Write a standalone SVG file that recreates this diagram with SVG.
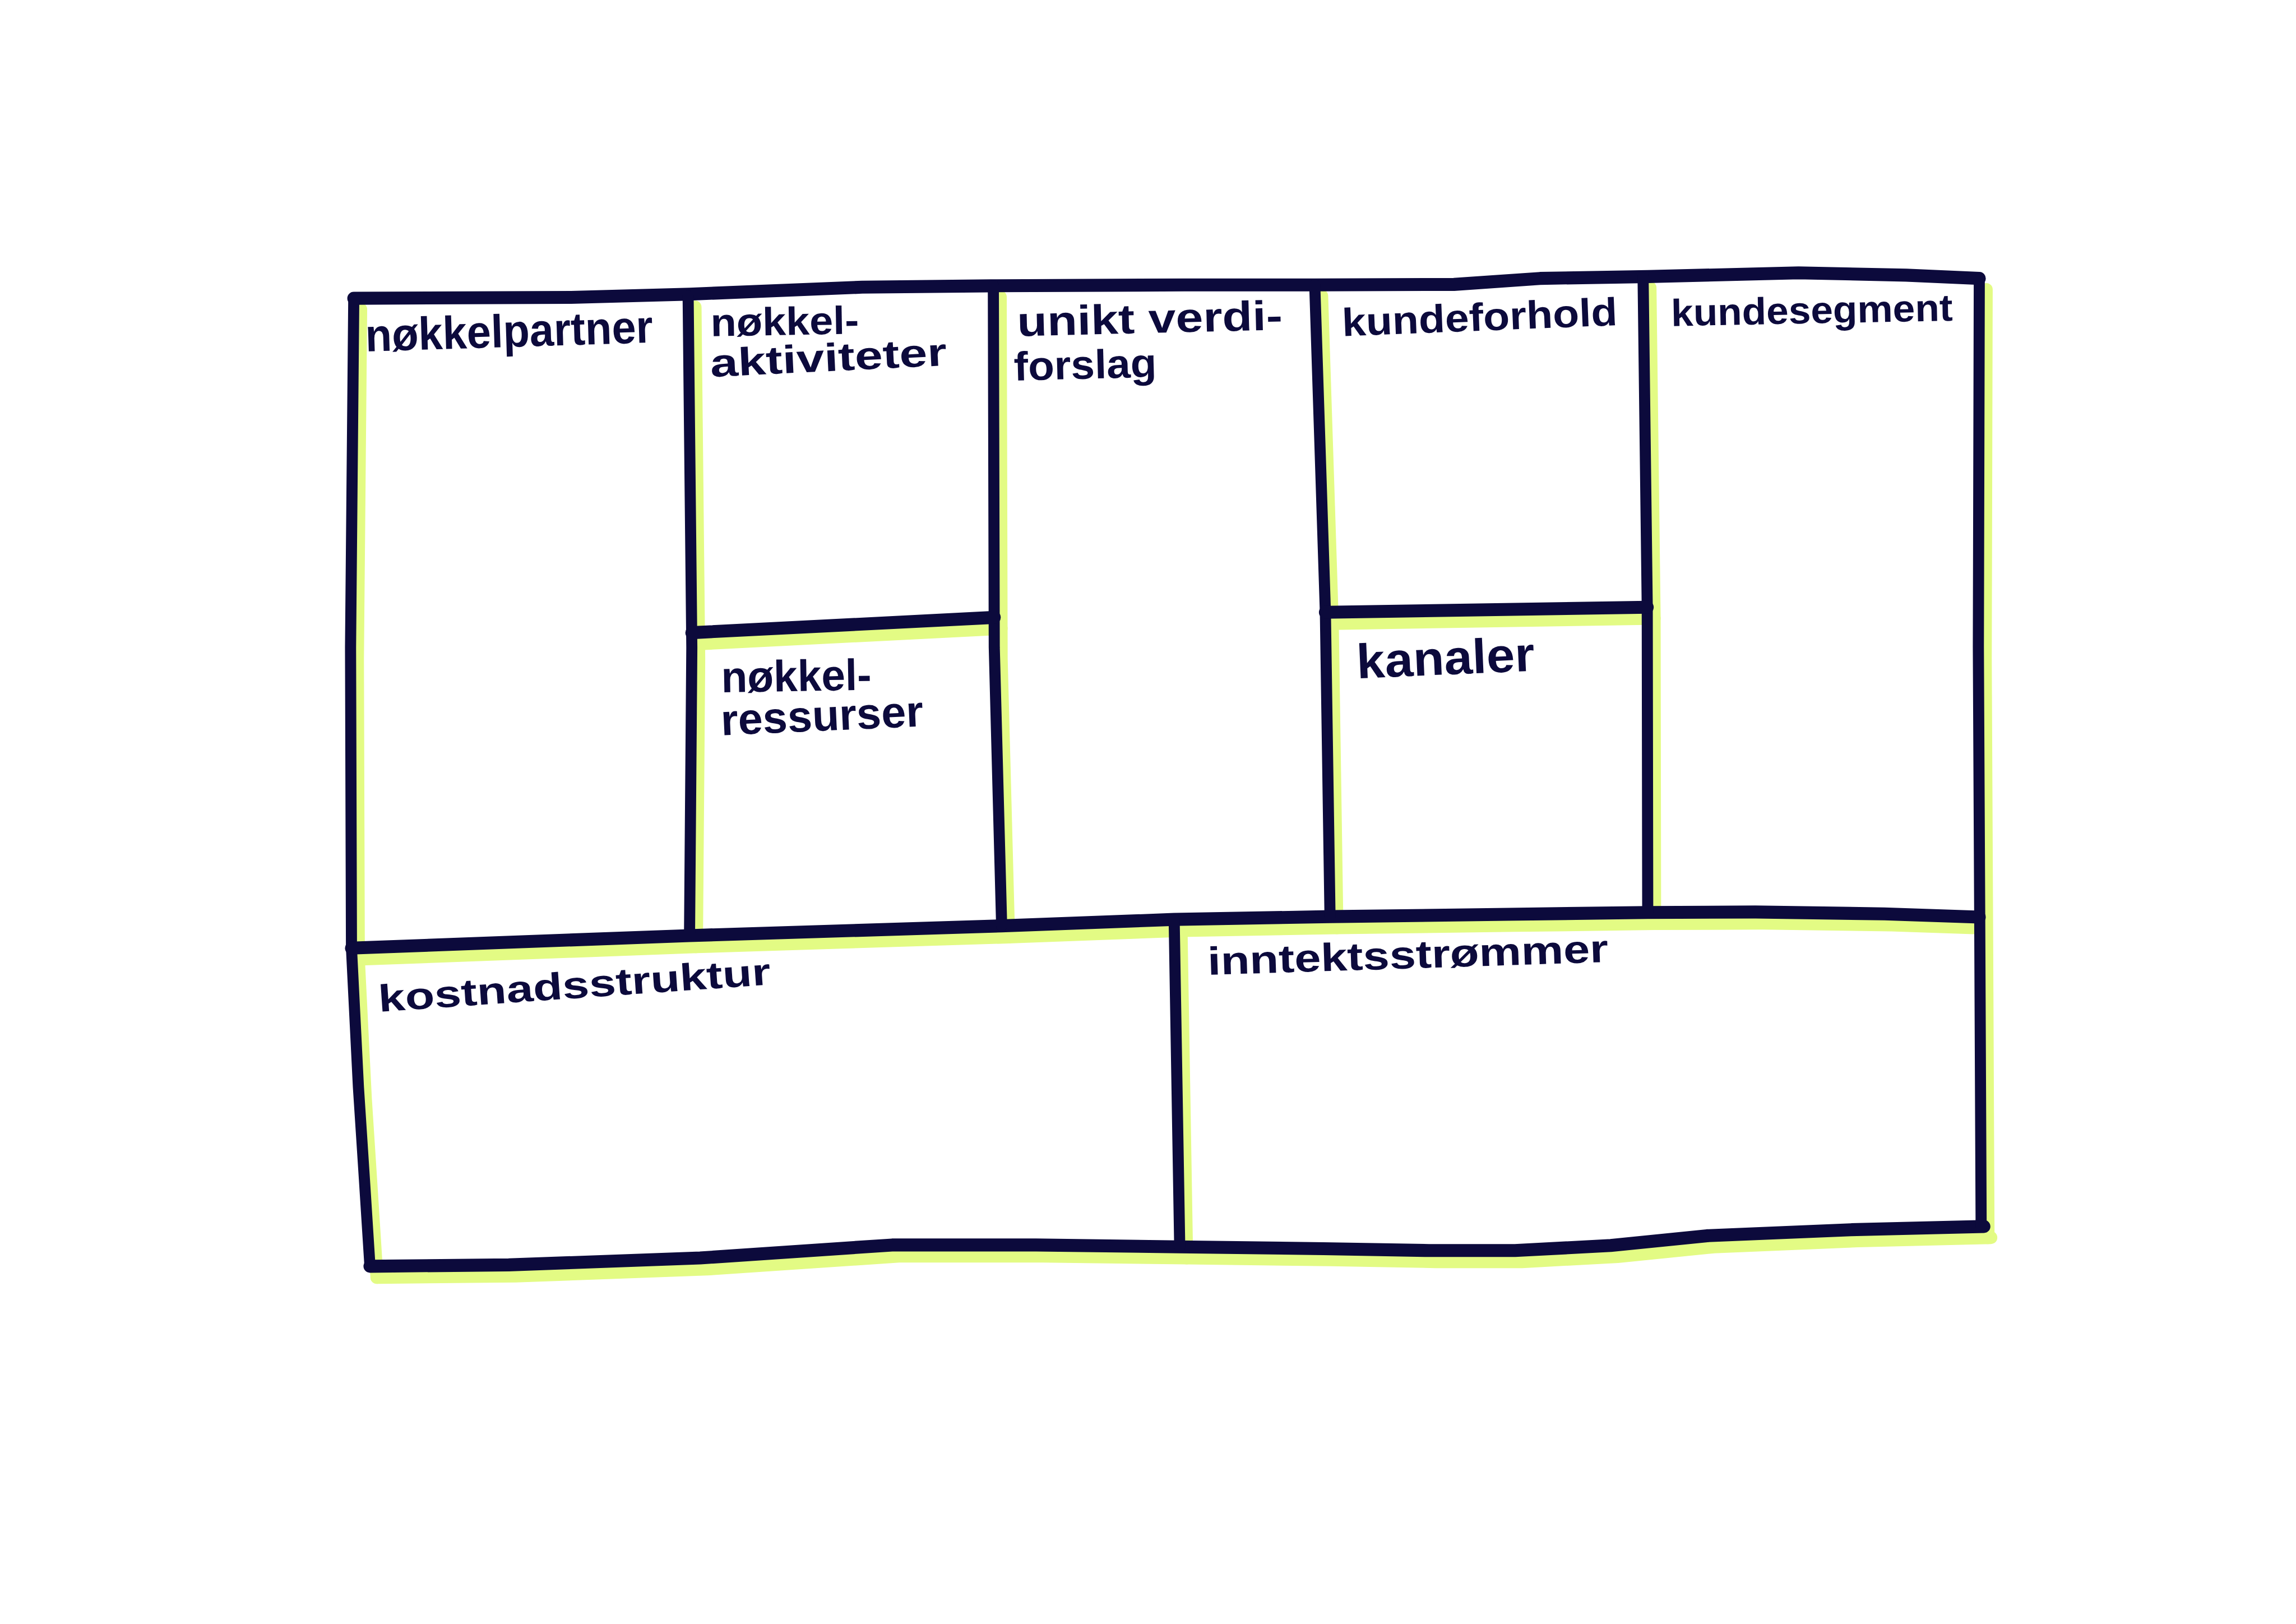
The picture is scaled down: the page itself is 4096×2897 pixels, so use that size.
<svg xmlns="http://www.w3.org/2000/svg" width="4096" height="2897" viewBox="0 0 4096 2897">
<style>
.ln{fill:none;stroke:#0c0a3c;stroke-linecap:round;stroke-linejoin:round}
.v{stroke-width:24}
.h{stroke-width:28}
.lime{fill:none;stroke:#e3fb84;stroke-linecap:round;stroke-linejoin:round;stroke-width:28}
.t{font-family:"Liberation Sans",Arial,sans-serif;fill:#0c0a3c;font-weight:bold}
</style>
<rect width="4096" height="2897" fill="#ffffff"/>
<g transform="scale(0.825)">
<g id="lime-shadow" class="lime" transform="translate(15,24)">
<path d="M765,645 L758,1400 L760,2050 L775,2350 L788,2550 L800,2738"/>
<path d="M800,2738 L1100,2735 L1514,2720 L1929,2692 L2240,2692 L2551,2696 L2862,2700 L3090,2704 L3276,2704 L3483,2693 L3691,2672 L4002,2659 L4290,2652"/>
<path d="M4280,602 L4278,1400 L4281,2000 L4284,2652"/>
<path d="M760,2050 L1491,2023 L2166,2002 L2539,1988 L2876,1982 L3261,1977 L3563,1973 L3796,1972 L4075,1976 L4280,1983"/>
<path d="M1488,640 L1496,1400 L1491,2023"/>
<path d="M2148,618 L2150,1400 L2166,2002"/>
<path d="M2843,616 L2866,1324 L2876,1982"/>
<path d="M3553,598 L3562,1313 L3563,1973"/>
<path d="M2539,1988 L2551,2696"/>
<path d="M1496,1368 L2150,1335"/>
<path d="M2866,1324 L3562,1313"/>
</g>
<g id="grid-lines" class="ln">
<path class="h" d="M765,645 L1235,643 L1491,636 L1864,621 L2143,618 L2562,616 L2842,616 L3144,615 L3330,602 L3563,598 L3889,590 L4122,595 L4280,602"/>
<path class="v" d="M765,645 L758,1400 L760,2050 L775,2350 L788,2550 L800,2738"/>
<path class="h" d="M800,2738 L1100,2735 L1514,2720 L1929,2692 L2240,2692 L2551,2696 L2862,2700 L3090,2704 L3276,2704 L3483,2693 L3691,2672 L4002,2659 L4290,2652"/>
<path class="v" d="M4280,602 L4278,1400 L4281,2000 L4284,2652"/>
<path class="h" d="M760,2050 L1491,2023 L2166,2002 L2539,1988 L2876,1982 L3261,1977 L3563,1973 L3796,1972 L4075,1976 L4280,1983"/>
<path class="v" d="M1488,640 L1496,1400 L1491,2023"/>
<path class="v" d="M2148,618 L2150,1400 L2166,2002"/>
<path class="v" d="M2843,616 L2866,1324 L2876,1982"/>
<path class="v" d="M3553,598 L3562,1313 L3563,1973"/>
<path class="v" d="M2539,1988 L2551,2696"/>
<path class="h" d="M1496,1368 L2150,1335"/>
<path class="h" d="M2866,1324 L3562,1313"/>
</g>
<g id="node-noekkelpartner">
<text class="t" x="791" y="760" font-size="100" textLength="622" lengthAdjust="spacingAndGlyphs" transform="rotate(-1.8 791 760)">nøkkelpartner</text>
</g>
<g id="node-noekkelaktiviteter">
<text class="t" x="1537" y="727" font-size="85" textLength="321" lengthAdjust="spacingAndGlyphs" transform="rotate(-1 1537 727)">nøkkel-</text>
<text class="t" x="1537" y="815" font-size="85" textLength="512" lengthAdjust="spacingAndGlyphs" transform="rotate(-2.8 1537 815)">aktiviteter</text>
</g>
<g id="node-noekkelressurser">
<text class="t" x="1560" y="1497" font-size="95" textLength="325" lengthAdjust="spacingAndGlyphs" transform="rotate(-1 1560 1497)">nøkkel-</text>
<text class="t" x="1560" y="1590" font-size="95" textLength="438" lengthAdjust="spacingAndGlyphs" transform="rotate(-2.6 1560 1590)">ressurser</text>
</g>
<g id="node-verdiforslag">
<text class="t" x="2200" y="727" font-size="90" textLength="574" lengthAdjust="spacingAndGlyphs" transform="rotate(-1.4 2200 727)">unikt verdi-</text>
<text class="t" x="2193" y="823" font-size="88" textLength="309" lengthAdjust="spacingAndGlyphs" transform="rotate(-1.5 2193 823)">forslag</text>
</g>
<g id="node-kundeforhold">
<text class="t" x="2903" y="727" font-size="85" textLength="596" lengthAdjust="spacingAndGlyphs" transform="rotate(-2.3 2903 727)">kundeforhold</text>
</g>
<g id="node-kanaler">
<text class="t" x="2935" y="1467" font-size="105" textLength="385" lengthAdjust="spacingAndGlyphs" transform="rotate(-2.5 2935 1467)">kanaler</text>
</g>
<g id="node-kundesegment">
<text class="t" x="3614" y="705" font-size="82" textLength="609" lengthAdjust="spacingAndGlyphs" transform="rotate(-1.1 3614 705)">kundesegment</text>
</g>
<g id="node-kostnadsstruktur">
<text class="t" x="820" y="2188" font-size="82" textLength="850" lengthAdjust="spacingAndGlyphs" transform="rotate(-4 820 2188)">kostnadsstruktur</text>
</g>
<g id="node-inntektsstroemmer">
<text class="t" x="2612" y="2108" font-size="85" textLength="867" lengthAdjust="spacingAndGlyphs" transform="rotate(-1.85 2612 2108)">inntektsstrømmer</text>
</g>
</g>
</svg>
